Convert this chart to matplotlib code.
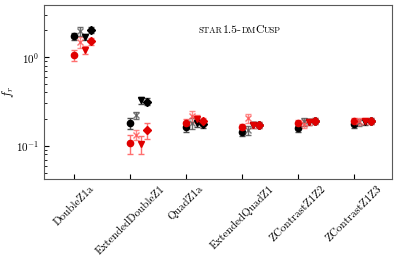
import matplotlib
matplotlib.use("Agg")
import matplotlib.pyplot as plt
import numpy as np
from matplotlib.offsetbox import AnchoredOffsetbox, HPacker, TextArea

plt.rcParams["font.family"] = ["cmr10", "DejaVu Serif"]
plt.rcParams["mathtext.fontset"] = "cm"
plt.rcParams["axes.formatter.use_mathtext"] = True

# ---------------------------------------------------------------- data
categories = ["DoubleZ1a", "ExtendedDoubleZ1", "QuadZ1a", "ExtendedQuadZ1",
              "ZContrastZ1Z2", "ZContrastZ1Z3"]

# black series (circle, x, triangle, diamond)
blk_circle = [1.71, 0.180, 0.162, 0.145, 0.160, 0.176]
blk_circle_err = [0.15, 0.024, 0.020, 0.015, 0.018, 0.016]
blk_x = [1.95, 0.223, 0.180, 0.151, 0.188, 0.185]
blk_x_err = [0.25, 0.020, 0.025, 0.018, 0.020, 0.018]
blk_tri = [1.68, 0.329, 0.180, 0.172, 0.186, 0.185]
blk_tri_err = [0.14, 0.030, 0.018, 0.014, 0.016, 0.014]
blk_dia = [2.03, 0.315, 0.177, 0.172, 0.191, 0.190]
blk_dia_err = [0.15, 0.030, 0.018, 0.014, 0.016, 0.014]

# red series
red_circle = [1.04, 0.107, 0.183, 0.162, 0.180, 0.190]
red_circle_err = [0.15, 0.027, 0.018, 0.015, 0.016, 0.015]
red_x = [1.47, 0.133, 0.214, 0.205, 0.177, 0.190]
red_x_err = [0.20, 0.016, 0.030, 0.025, 0.020, 0.018]
red_tri = [1.21, 0.105, 0.200, 0.172, 0.186, 0.190]
red_tri_err = [0.12, 0.025, 0.020, 0.015, 0.016, 0.015]
red_dia = [1.50, 0.149, 0.188, 0.172, 0.191, 0.190]
red_dia_err = [0.15, 0.030, 0.020, 0.015, 0.016, 0.015]

offsets = [0.0, 0.1, 0.2, 0.3]

# ---------------------------------------------------------------- plot
fig = plt.figure(figsize=(4.07, 2.60), dpi=100)
ax = fig.add_axes([0.108, 0.312, 0.855, 0.669])
xpos = np.arange(len(categories))

series = [
    (blk_circle, blk_circle_err, "o", "black", 1.0, 0),
    (blk_x, blk_x_err, "x", "0.35", 0.8, 1),
    (blk_tri, blk_tri_err, "v", "black", 1.0, 2),
    (blk_dia, blk_dia_err, "D", "black", 1.0, 3),
    (red_circle, red_circle_err, "o", "#e00000", 1.0, 0),
    (red_x, red_x_err, "x", "#ff5050", 0.8, 1),
    (red_tri, red_tri_err, "v", "#e00000", 1.0, 2),
    (red_dia, red_dia_err, "D", "#e00000", 1.0, 3),
]
for vals, err, mk, col, al, k in series:
    ecol = "0.3" if col in ("black", "0.35") else "#ff7070"
    ms = 3.6 if mk == "D" else 4.5
    ax.errorbar(xpos + offsets[k], vals, yerr=err, fmt=mk, color=col, alpha=al,
                ms=ms, mew=1.0, ecolor=ecol, elinewidth=1.0, capsize=2.0, capthick=1.0)

ax.set_yscale("log")
ax.set_ylim(0.0425, 3.85)
ax.set_xlim(-0.54, 5.68)
ax.set_xticks(xpos)
ax.set_xticklabels(categories, rotation=45, ha="center", fontsize=8.5)
ax.tick_params(direction="in", labelsize=8)
ax.tick_params(axis="y", which="minor", direction="in")
ax.set_ylabel("$f_r$", fontsize=9)
ax.yaxis.set_label_coords(-0.08, 0.5)
for sp in ax.spines.values():
    sp.set_color("0.35")

# small caps label: \textsc{star1.5-dm}Cusp
small, big = 6.2, 8.5
pieces = [("STAR", small), ("1.5-", big), ("DM", small), ("C", big), ("USP", small)]
boxes = [TextArea(t, textprops=dict(fontsize=s, family="cmr10")) for t, s in pieces]
pack = HPacker(children=boxes, align="baseline", pad=0, sep=0)
anch = AnchoredOffsetbox(loc="center", child=pack, frameon=False,
                         bbox_to_anchor=(0.563, 0.856), bbox_transform=ax.transAxes,
                         borderpad=0, pad=0)
ax.add_artist(anch)

fig.savefig("out.png", dpi=100)
